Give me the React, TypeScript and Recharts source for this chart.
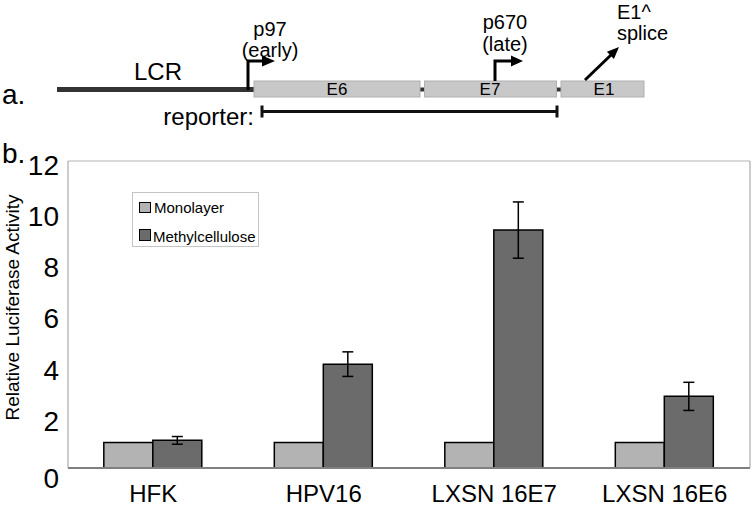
import React from 'react';
import { BarChart, Bar, XAxis, YAxis, CartesianGrid, ErrorBar, Legend } from 'recharts';

const categories = ['HFK', 'HPV16', 'LXSN 16E7', 'LXSN 16E6'];
const monolayer = [1, 1, 1, 1];
const methylcellulose = [1.08, 4.06, 9.3, 2.8];
const methylError = [0.15, 0.48, 1.1, 0.55];
const yTicks = [0, 2, 4, 6, 8, 10, 12];

const data = categories.map((c, i) => ({
  name: c,
  Monolayer: monolayer[i],
  Methylcellulose: methylcellulose[i],
  err: methylError[i],
}));

const FONT = "Arial, 'Liberation Sans', Helvetica, sans-serif";
const LIGHT = '#b3b3b3';
const DARK = '#6b6b6b';

const YTick = (props: any) => {
  const { x, y, payload } = props;
  const shift = payload.value === 0 ? 10 : 4;
  return (
    <text x={x} y={y + shift} dy="0.355em" textAnchor="end" fontSize={28} fontFamily={FONT} fill="#000">
      {payload.value}
    </text>
  );
};

const LegendBox = () => (
  <div
    style={{
      width: 127,
      height: 55,
      border: '1px solid #c4c4c4',
      background: '#fff',
      fontFamily: FONT,
      fontSize: 15,
      color: '#000',
      boxSizing: 'border-box',
      position: 'relative',
    }}
  >
    <div style={{ position: 'absolute', left: 6, top: 9, width: 12, height: 11, background: LIGHT, border: '1px solid #000', boxSizing: 'border-box' }} />
    <div style={{ position: 'absolute', left: 21, top: 6, lineHeight: '18px', whiteSpace: 'nowrap' }}>Monolayer</div>
    <div style={{ position: 'absolute', left: 6, top: 36, width: 12, height: 12, background: DARK, border: '1px solid #000', boxSizing: 'border-box' }} />
    <div style={{ position: 'absolute', left: 20, top: 35, lineHeight: '18px', whiteSpace: 'nowrap' }}>Methylcellulose</div>
  </div>
);

const Diagram = () => (
  <svg width={754} height={175} style={{ position: 'absolute', left: 0, top: 0, pointerEvents: 'none' }} fontFamily={FONT}>
    <text x={2} y={104} fontSize={28} fill="#000">a.</text>
    <line x1={57} y1={89.5} x2={254} y2={89.5} stroke="#333" strokeWidth={5} />
    <text x={158} y={80} fontSize={24} textAnchor="middle" fill="#000">LCR</text>
    <line x1={420} y1={89.5} x2={425} y2={89.5} stroke="#333" strokeWidth={4} />
    <line x1={556} y1={89.5} x2={561} y2={89.5} stroke="#333" strokeWidth={4} />
    <rect x={254} y={81} width={166} height={16} fill="#c8c8c8" stroke="#b0b0b0" strokeWidth={1} />
    <rect x={424.5} y={81} width={132} height={16} fill="#c8c8c8" stroke="#b0b0b0" strokeWidth={1} />
    <rect x={561} y={81} width={83} height={16} fill="#c8c8c8" stroke="#b0b0b0" strokeWidth={1} />
    <text x={337} y={95} fontSize={17} textAnchor="middle" fill="#000">E6</text>
    <text x={490} y={95} fontSize={17} textAnchor="middle" fill="#000">E7</text>
    <text x={604} y={95} fontSize={17} textAnchor="middle" fill="#000">E1</text>
    <polyline points="248,90 248,61 263,61" fill="none" stroke="#000" strokeWidth={3} />
    <polygon points="262,55.5 275,61 262,66.5" fill="#000" />
    <text x={270} y={36} fontSize={20} textAnchor="middle" fill="#000">p97</text>
    <text x={270} y={57} fontSize={20} textAnchor="middle" fill="#000">(early)</text>
    <polyline points="495,81 495,61 512,61" fill="none" stroke="#000" strokeWidth={3} />
    <polygon points="511,55.5 523,61 511,66.5" fill="#000" />
    <text x={505} y={29} fontSize={20} textAnchor="middle" fill="#000">p670</text>
    <text x={505} y={51} fontSize={20} textAnchor="middle" fill="#000">(late)</text>
    <line x1={585} y1={80} x2={612} y2={54} stroke="#000" strokeWidth={3} />
    <polygon points="619,47 613.9,59 606.9,51.8" fill="#000" />
    <text x={617} y={19} fontSize={20} fill="#000">E1^</text>
    <text x={617} y={40} fontSize={20} fill="#000">splice</text>
    <text x={254} y={125} fontSize={24} textAnchor="end" fill="#000">reporter:</text>
    <line x1={262} y1={111.5} x2={557} y2={111.5} stroke="#111" strokeWidth={3} />
    <line x1={262} y1={105.5} x2={262} y2={117.5} stroke="#111" strokeWidth={3} />
    <line x1={557} y1={105.5} x2={557} y2={117.5} stroke="#111" strokeWidth={3} />
    <text x={2} y={163} fontSize={28} fill="#000">b.</text>
  </svg>
);

export default function App() {
  return (
    <div style={{ position: 'absolute', left: 0, top: 0, width: 754, height: 508, background: '#fff' }}>
      <BarChart
        width={754}
        height={508}
        data={data}
        margin={{ top: 161, right: 2, bottom: 0, left: 0 }}
        barCategoryGap="21%"
        barGap={0}
      >
        <CartesianGrid vertical={false} stroke="#b4b4b4" strokeWidth={1} />
        <XAxis
          dataKey="name"
          height={40}
          tickLine={false}
          tickSize={0}
          tickMargin={17}
          axisLine={{ stroke: '#808080', strokeWidth: 2 }}
          tick={{ fontSize: 24, fontFamily: FONT, fill: '#000' }}
          interval={0}
        />
        <YAxis
          yAxisId="left"
          width={68}
          domain={[0, 12]}
          ticks={yTicks}
          tickLine={false}
          tickSize={0}
          tickMargin={9}
          axisLine={{ stroke: '#9a9a9a', strokeWidth: 1 }}
          tick={<YTick />}
          label={{
            content: (p: any) => {
              const vb = p.viewBox;
              const cx = 12;
              const cy = vb.y + vb.height / 2 - 7;
              return (
                <text x={cx} y={cy} transform={`rotate(-90 ${cx} ${cy})`} textAnchor="middle" dominantBaseline="central" fontSize={19} fontFamily={FONT} fill="#000">
                  Relative Luciferase Activity
                </text>
              );
            },
          }}
        />
        <YAxis yAxisId="right" orientation="right" width={2} domain={[0, 12]} ticks={yTicks} tick={false} tickLine={false} axisLine={{ stroke: '#9a9a9a', strokeWidth: 1 }} />
        <Legend
          layout="vertical"
          verticalAlign="middle"
          align="center"
          content={() => <LegendBox />}
          wrapperStyle={{ position: 'absolute', left: 132, top: 192, width: 127, height: 55 }}
        />
        <Bar yAxisId="left" dataKey="Monolayer" fill={LIGHT} stroke="#000" strokeWidth={1.5} isAnimationActive={false} />
        <Bar yAxisId="left" dataKey="Methylcellulose" fill={DARK} stroke="#000" strokeWidth={1.5} isAnimationActive={false}>
          <ErrorBar dataKey="err" width={5.5} stroke="#000" strokeWidth={1.5} direction="y" />
        </Bar>
      </BarChart>
      <Diagram />
    </div>
  );
}
